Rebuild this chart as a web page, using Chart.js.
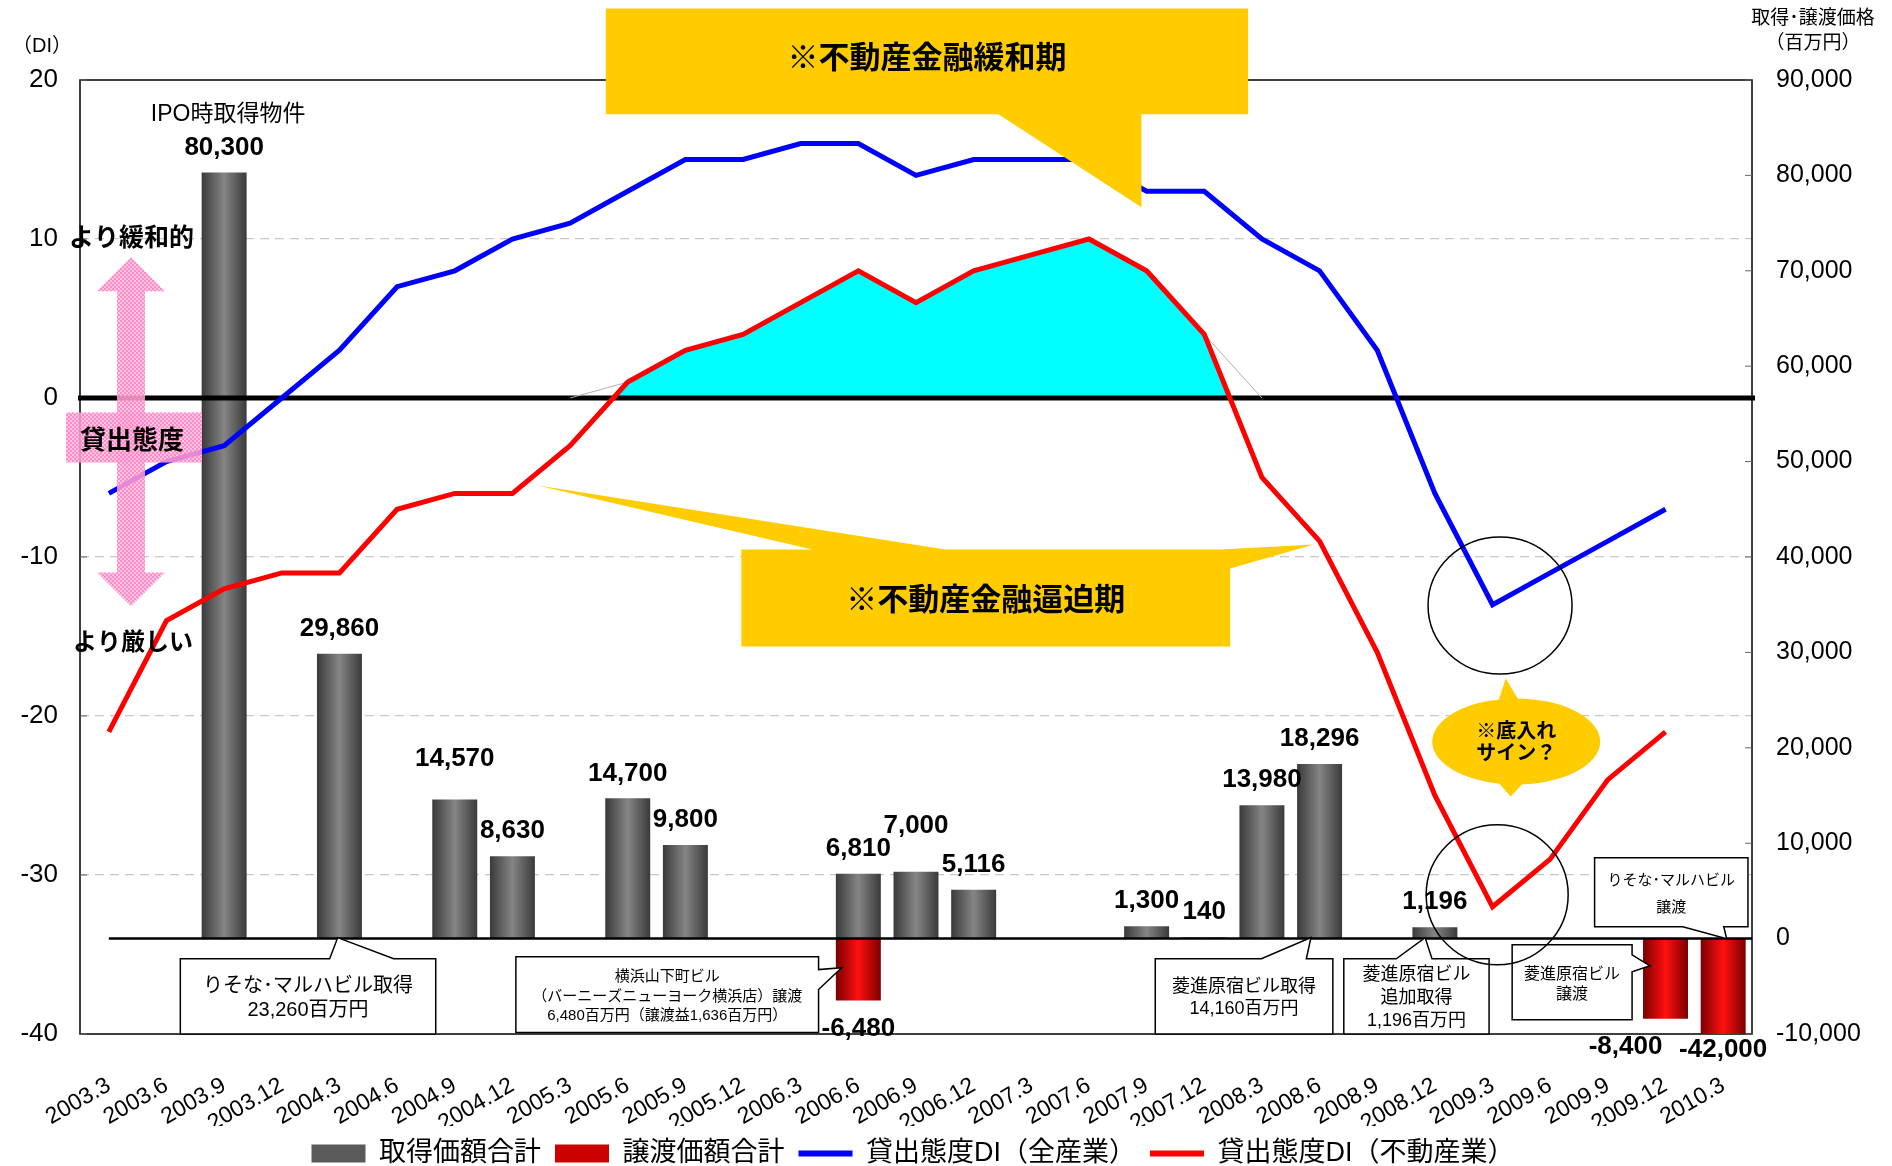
<!DOCTYPE html>
<html lang="ja">
<head>
<meta charset="utf-8">
<title>貸出態度DIと取得・譲渡価格の推移</title>
<script src="https://cdn.jsdelivr.net/npm/chart.js@4.4.1/dist/chart.umd.min.js"></script>
<style>
  html, body { margin: 0; padding: 0; background: #fff; }
  #wrap { width: 1892px; height: 1166px; }
</style>
</head>
<body>
<div id="wrap"><canvas id="chart"></canvas></div>
<script>
// 四半期
const quarters = ['2003.3', '2003.6', '2003.9', '2003.12', '2004.3', '2004.6', '2004.9', '2004.12',
  '2005.3', '2005.6', '2005.9', '2005.12', '2006.3', '2006.6', '2006.9', '2006.12',
  '2007.3', '2007.6', '2007.9', '2007.12', '2008.3', '2008.6', '2008.9', '2008.12',
  '2009.3', '2009.6', '2009.9', '2009.12', '2010.3'];

// 貸出態度DI
const diAll = [-6, -4, -3, 0, 3, 7, 8, 10, 11, 13, 15, 15, 16, 16, 14, 15,
  15, 15, 13, 13, 10, 8, 3, -6, -13, -11, -9, -7, null];
const diRealEstate = [-21, -14, -12, -11, -11, -7, -6, -6, -3, 1, 3, 4, 6, 8, 6, 8,
  9, 10, 8, 4, -5, -9, -16, -25, -32, -29, -24, -21, null];
// 緩和期エリアの縁
const easingEdge = [null, null, null, null, null, null, null, null, 0, 1, 3, 4, 6, 8, 6, 8,
  9, 10, 8, 4, 0, null, null, null, null, null, null, null, null];

// 取得・譲渡価格（百万円）
const acquisitions = [null, null, 80300, null, 29860, null, 14570, 8630, null, 14700, 9800, null, null, 6810, 7000, 5116,
  null, null, 1300, 140, 13980, 18296, null, 1196, null, null, null, null, null];
const disposals = [null, null, null, null, null, null, null, null, null, null, null, null, null, -6480, null, null,
  null, null, null, null, null, null, null, null, null, null, null, -8400, -42000];

const diTicks = [20, 10, 0, -10, -20, -30, -40];

const FONT = "'Liberation Sans', 'Noto Sans CJK JP', sans-serif";
const BAR_PCT = 0.78;

// ラベル位置の微調整（px）
const labelLift = { 6: 16, 14: 21 };
const labelShift = { 27: -40 };

const fmt = v => v.toLocaleString('en-US');

// 棒のグラデーション（両端が暗く中央が明るい）
const barFill = (dark, light) => (c) => {
  const chart = c.chart;
  if (!chart.chartArea || c.type !== 'data') return dark;
  const xs = chart.scales.x;
  const cx = xs.getPixelForValue(c.dataIndex);
  const half = (xs.getPixelForValue(1) - xs.getPixelForValue(0)) * BAR_PCT / 2;
  const g = chart.ctx.createLinearGradient(cx - half, 0, cx + half, 0);
  g.addColorStop(0, dark);
  g.addColorStop(0.5, light);
  g.addColorStop(1, dark);
  return g;
};

const pinkPattern = (() => {
  const pc = document.createElement('canvas');
  pc.width = pc.height = 4;
  const p = pc.getContext('2d');
  p.fillStyle = 'rgba(255,180,220,0.8)';
  p.fillRect(0, 0, 4, 4);
  p.fillStyle = 'rgba(255,130,195,0.85)';
  p.fillRect(0, 0, 2, 2);
  p.fillRect(2, 2, 2, 2);
  return pc;
})();

const helpers = (chart) => {
  const xs = chart.scales.x, ys = chart.scales.y, y2 = chart.scales.y2;
  const x0 = xs.getPixelForValue(0);
  const dx = xs.getPixelForValue(1) - x0;
  return {
    X: i => x0 + i * dx,
    Y: v => ys.getPixelForValue(v),
    Y2: v => y2.getPixelForValue(v),
    ca: chart.chartArea
  };
};

const drawText = (ctx, str, x, y, size, bold, align) => {
  ctx.font = (bold ? 'bold ' : '') + size + 'px ' + FONT;
  ctx.textAlign = align || 'center';
  ctx.textBaseline = 'middle';
  ctx.fillStyle = '#000';
  ctx.fillText(str, x, y);
};

// 吹き出し（四角＋しっぽ）
const calloutPath = (ctx, box, tail) => {
  const [x1, y1, x2, y2] = box;
  ctx.beginPath();
  ctx.moveTo(x1, y1);
  if (tail && tail.side === 'top') { ctx.lineTo(tail.a, y1); ctx.lineTo(tail.tx, tail.ty); ctx.lineTo(tail.b, y1); }
  ctx.lineTo(x2, y1);
  if (tail && tail.side === 'right') { ctx.lineTo(x2, tail.a); ctx.lineTo(tail.tx, tail.ty); ctx.lineTo(x2, tail.b); }
  ctx.lineTo(x2, y2);
  if (tail && tail.side === 'bottom') { ctx.lineTo(tail.b, y2); ctx.lineTo(tail.tx, tail.ty); ctx.lineTo(tail.a, y2); }
  ctx.lineTo(x1, y2);
  ctx.closePath();
};

const whiteCallout = (ctx, box, tail, lines, size, lh) => {
  ctx.save();
  calloutPath(ctx, box, tail);
  ctx.fillStyle = '#fff';
  ctx.fill();
  ctx.lineWidth = 1.5;
  ctx.strokeStyle = '#000';
  ctx.stroke();
  ctx.restore();
  const cx = (box[0] + box[2]) / 2;
  const cy = (box[1] + box[3]) / 2 + 2;
  lines.forEach((s, k) => drawText(ctx, s, cx, cy + (k - (lines.length - 1) / 2) * lh, size, false));
};

const shapes = {
  id: 'shapes',
  afterLayout(chart) {
    // 凡例を少し左に寄せる
    if (chart.legend) {
      chart.legend.left -= 33;
      chart.legend.right -= 33;
    }
  },
  beforeDatasetsDraw(chart) {
    chart.$zeroDone = false;
    const { ctx } = chart;
    const { Y, Y2, ca } = helpers(chart);
    ctx.save();
    ctx.strokeStyle = '#000';
    ctx.lineWidth = 1.5;
    ctx.strokeRect(ca.left, ca.top, ca.width, ca.height);
    // 内向きの目盛り
    ctx.lineWidth = 1;
    ctx.strokeStyle = '#666';
    ctx.beginPath();
    diTicks.forEach(v => { ctx.moveTo(ca.left, Y(v)); ctx.lineTo(ca.left + 7, Y(v)); });
    chart.scales.y2.ticks.forEach(t => { ctx.moveTo(ca.right - 7, Y2(t.value)); ctx.lineTo(ca.right, Y2(t.value)); });
    ctx.stroke();
    ctx.restore();
  },
  beforeDatasetDraw(chart, args) {
    if (chart.$zeroDone || args.meta.type !== 'line') return;
    chart.$zeroDone = true;
    const { ctx } = chart;
    const { X, Y, Y2, ca } = helpers(chart);
    ctx.save();
    ctx.strokeStyle = '#000';
    ctx.lineWidth = 2.5;
    ctx.beginPath();
    ctx.moveTo(X(0), Y2(0));
    ctx.lineTo(ca.right, Y2(0));
    ctx.stroke();
    ctx.lineWidth = 5;
    ctx.beginPath();
    ctx.moveTo(ca.left - 2, Y(0));
    ctx.lineTo(ca.right + 3, Y(0));
    ctx.stroke();
    ctx.restore();
  },
  afterDatasetsDraw(chart) {
    const { ctx } = chart;
    const { ca } = helpers(chart);
    chart.getDatasetMeta(0).data.forEach((bar, i) => {
      const v = acquisitions[i];
      if (v == null) return;
      const y = bar.y - 25 - (labelLift[i] || 0);
      drawText(ctx, fmt(v), bar.x, y, 26, true);
      if (i === 2) drawText(ctx, 'IPO時取得物件', bar.x + 4, y - 33, 23, false);
    });
    chart.getDatasetMeta(1).data.forEach((bar, i) => {
      const v = disposals[i];
      if (v == null) return;
      drawText(ctx, fmt(v), bar.x + (labelShift[i] || 0), Math.min(bar.y + 28, ca.bottom + 16), 26, true);
    });
  },
  afterDraw(chart) {
    const { ctx } = chart;
    const { X, Y, Y2, ca } = helpers(chart);

    // 軸タイトル
    drawText(ctx, '（DI）', ca.left - 38, ca.top - 34, 20, false);
    drawText(ctx, '取得･譲渡価格', ca.right + 61, ca.top - 61, 19, false);
    drawText(ctx, '（百万円）', ca.right + 61, ca.top - 36, 19, false);

    // 貸出態度の矢印
    ctx.save();
    ctx.fillStyle = ctx.createPattern(pinkPattern, 'repeat');
    const ax = ca.left + 51;
    const tTip = Y(8.85), tBase = Y(6.71), bTip = Y(-13.1), bBase = Y(-10.97);
    ctx.beginPath();
    ctx.moveTo(ax, tTip);
    ctx.lineTo(ax + 34, tBase); ctx.lineTo(ax + 14, tBase);
    ctx.lineTo(ax + 14, bBase); ctx.lineTo(ax + 34, bBase);
    ctx.lineTo(ax, bTip);
    ctx.lineTo(ax - 34, bBase); ctx.lineTo(ax - 14, bBase);
    ctx.lineTo(ax - 14, tBase); ctx.lineTo(ax - 34, tBase);
    ctx.closePath();
    ctx.fill();
    ctx.fillRect(ca.left - 14, Y(-0.91), 136, Y(-4.06) - Y(-0.91));
    ctx.restore();
    drawText(ctx, '貸出態度', ca.left + 52, Y(-2.78), 26, true);
    drawText(ctx, 'より緩和的', ca.left - 11, Y(10), 25, true, 'left');
    drawText(ctx, 'より厳しい', ca.left - 7, Y(-15.45), 24, true, 'left');

    // ※不動産金融緩和期
    ctx.save();
    ctx.fillStyle = '#FFCC00';
    calloutPath(ctx, [X(8.62), Y(24.5), X(19.76), Y(17.85)],
      { side: 'bottom', a: X(15.43), b: X(17.91), tx: X(17.91), ty: Y(12.0) });
    ctx.fill();
    // ※不動産金融逼迫期
    const b2 = [X(10.97), Y(-9.53), X(19.45), Y(-15.63)];
    ctx.beginPath();
    ctx.moveTo(b2[0], b2[1]);
    ctx.lineTo(X(12.2), b2[1]);
    ctx.lineTo(X(7.44), Y(-5.5));
    ctx.lineTo(X(14.51), b2[1]);
    ctx.lineTo(X(19.28), b2[1]);
    ctx.lineTo(X(20.9), Y(-9.21));
    ctx.lineTo(b2[2], Y(-10.72));
    ctx.lineTo(b2[2], b2[3]);
    ctx.lineTo(b2[0], b2[3]);
    ctx.closePath();
    ctx.fill();
    ctx.restore();
    drawText(ctx, '※不動産金融緩和期', (X(8.62) + X(19.76)) / 2, Y(21.3), 31, true);
    drawText(ctx, '※不動産金融逼迫期', (b2[0] + b2[2]) / 2, Y(-12.8), 31, true);

    // 吹き出し
    whiteCallout(ctx, [X(1.24), Y(-35.27), X(5.67), Y(-40)],
      { side: 'top', a: X(3.83), b: X(4.94), tx: X(3.97), ty: Y2(0) - 1 },
      ['りそな･マルハビル取得', '23,260百万円'], 20, 24);
    whiteCallout(ctx, [X(7.06), Y(-35.14), X(12.31), Y(-39.9)],
      { side: 'right', a: Y(-35.95), b: Y(-37.2), tx: X(12.71), ty: Y(-35.83) },
      ['横浜山下町ビル', '（バーニーズニューヨーク横浜店）譲渡', '6,480百万円（譲渡益1,636百万円）'], 15, 19.5);
    whiteCallout(ctx, [X(18.15), Y(-35.27), X(21.23), Y(-40)],
      { side: 'top', a: X(19.99), b: X(20.77), tx: X(20.85), ty: Y2(0) - 1 },
      ['菱進原宿ビル取得', '14,160百万円'], 18, 22);
    whiteCallout(ctx, [X(21.42), Y(-35.27), X(23.94), Y(-40)],
      { side: 'top', a: X(22.33), b: X(22.95), tx: X(22.83), ty: Y2(0) - 1 },
      ['菱進原宿ビル', '追加取得', '1,196百万円'], 18, 23);
    whiteCallout(ctx, [X(24.34), Y(-34.39), X(26.42), Y(-39.11)],
      { side: 'right', a: Y(-35.02), b: Y(-36.09), tx: X(26.73), ty: Y(-35.71) },
      ['菱進原宿ビル', '譲渡'], 16, 20);
    whiteCallout(ctx, [X(25.77), Y(-28.91), X(28.43), Y(-33.25)],
      { side: 'bottom', a: X(27.3), b: X(28.01), tx: X(28.06), ty: Y2(0) },
      ['りそな･マルハビル', '譲渡'], 15, 27);

    // 底入れサインの丸
    ctx.save();
    ctx.strokeStyle = '#000';
    ctx.lineWidth = 1.5;
    ctx.beginPath();
    ctx.ellipse(X(24.13), Y(-13.05), 72, 68.5, 0, 0, Math.PI * 2);
    ctx.stroke();
    ctx.beginPath();
    ctx.ellipse(X(24.08), Y(-31.24), 71, 70, 0, 0, Math.PI * 2);
    ctx.stroke();
    const ex = X(24.41), ey = Y(-21.61);
    ctx.fillStyle = '#FFCC00';
    ctx.beginPath();
    ctx.ellipse(ex, ey, 84, 43, 0, 0, Math.PI * 2);
    ctx.fill();
    ctx.beginPath();
    ctx.moveTo(ex - 18.5, ey - 38); ctx.lineTo(ex - 10.5, ey - 63); ctx.lineTo(ex + 4.5, ey - 38);
    ctx.closePath();
    ctx.fill();
    ctx.beginPath();
    ctx.moveTo(ex - 20.5, ey + 38); ctx.lineTo(ex - 5.5, ey + 55); ctx.lineTo(ex + 10.5, ey + 38);
    ctx.closePath();
    ctx.fill();
    ctx.restore();
    drawText(ctx, '※底入れ', ex, ey - 9, 20, true);
    drawText(ctx, 'サイン？', ex, ey + 13, 20, true);
  }
};

Chart.defaults.font.family = FONT;
Chart.defaults.color = '#000';

new Chart(document.getElementById('chart'), {
  type: 'bar',
  data: {
    labels: quarters,
    datasets: [
      {
        label: '取得価額合計',
        data: acquisitions,
        yAxisID: 'y2',
        backgroundColor: barFill('#3a3a3a', '#858585'),
        barPercentage: BAR_PCT,
        categoryPercentage: 1,
        grouped: false,
        order: 10
      },
      {
        label: '譲渡価額合計',
        data: disposals,
        yAxisID: 'y2',
        backgroundColor: barFill('#7a0000', '#ff1010'),
        barPercentage: BAR_PCT,
        categoryPercentage: 1,
        grouped: false,
        order: 9
      },
      {
        type: 'line',
        label: 'edge',
        data: easingEdge,
        yAxisID: 'y',
        borderColor: '#b0b0b0',
        borderWidth: 1,
        pointRadius: 0,
        fill: false,
        order: 3
      },
      {
        type: 'line',
        label: '貸出態度DI（不動産業）',
        data: diRealEstate,
        yAxisID: 'y',
        borderColor: '#ff0000',
        borderWidth: 5,
        pointRadius: 0,
        tension: 0,
        fill: { target: 'origin', above: '#00ffff', below: 'rgba(0,0,0,0)' },
        order: 2
      },
      {
        type: 'line',
        label: '貸出態度DI（全産業）',
        data: diAll,
        yAxisID: 'y',
        borderColor: '#0000ff',
        borderWidth: 5,
        pointRadius: 0,
        tension: 0,
        fill: false,
        order: 1
      }
    ]
  },
  options: {
    responsive: true,
    maintainAspectRatio: false,
    animation: false,
    events: [],
    layout: { padding: { top: 80, left: 0, right: 0, bottom: -11 } },
    scales: {
      x: {
        grid: { display: false },
        border: { display: false },
        ticks: { autoSkip: false, minRotation: 30, maxRotation: 30, padding: 30, font: { size: 23 } },
        afterFit: s => { s.height = 92; }
      },
      y: {
        position: 'left',
        min: -40,
        max: 20,
        ticks: { stepSize: 10, padding: 22, font: { size: 26 } },
        grid: {
          drawTicks: false,
          color: c => ([20, 0, -40].includes(c.tick.value) ? 'rgba(0,0,0,0)' : '#c8c8c8'),
          lineWidth: 1.2
        },
        border: { display: false, dash: [9, 6] },
        afterFit: s => { s.width = 80; }
      },
      y2: {
        position: 'right',
        min: -10000,
        max: 90000,
        ticks: { stepSize: 10000, padding: 24, font: { size: 25 }, callback: v => fmt(v) },
        grid: { drawOnChartArea: false, drawTicks: false },
        border: { display: false },
        afterFit: s => { s.width = 140; }
      }
    },
    plugins: {
      tooltip: { enabled: false },
      filler: { drawTime: 'beforeDatasetsDraw' },
      legend: {
        position: 'bottom',
        labels: {
          usePointStyle: true,
          pointStyleWidth: 54,
          boxHeight: 18,
          padding: 14,
          font: { size: 27 },
          color: '#000',
          generateLabels: () => [
            { text: '取得価額合計', fillStyle: '#5a5a5a', strokeStyle: '#5a5a5a', lineWidth: 0, pointStyle: 'rect', hidden: false, datasetIndex: 0 },
            { text: '譲渡価額合計', fillStyle: '#cc0000', strokeStyle: '#cc0000', lineWidth: 0, pointStyle: 'rect', hidden: false, datasetIndex: 1 },
            { text: '貸出態度DI（全産業）', fillStyle: '#0000ff', strokeStyle: '#0000ff', lineWidth: 6, pointStyle: 'line', hidden: false, datasetIndex: 4 },
            { text: '貸出態度DI（不動産業）', fillStyle: '#ff0000', strokeStyle: '#ff0000', lineWidth: 6, pointStyle: 'line', hidden: false, datasetIndex: 3 }
          ]
        }
      }
    }
  },
  plugins: [shapes]
});
</script>
</body>
</html>
